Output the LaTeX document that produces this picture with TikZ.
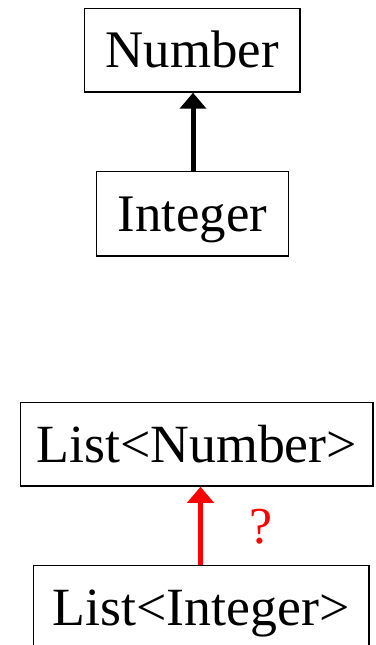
\documentclass[tikz,border=0pt]{standalone}
\usepackage{fontspec}
\setmainfont{Liberation Serif}
\usetikzlibrary{arrows.meta}
\begin{document}
\begin{tikzpicture}[x=1bp,y=-1bp,
  box/.style={draw=black,line width=1.5bp,inner sep=0pt,rectangle,text depth=0pt},
  big/.style={font=\fontsize{53}{60}\selectfont,text height=35bp},
  bigger/.style={font=\fontsize{54}{62}\selectfont,text height=36bp},
  inh/.style={line width=5bp,-{Triangle[width=26bp,length=16bp]}}]
\useasboundingbox (0,0) rectangle (375,645);
\clip (0,0) rectangle (375,645);
\node[box,big,minimum width=215.5bp,minimum height=83.5bp] (num) at (192.25,50.25) {Number};
\node[box,big,minimum width=192bp,minimum height=84.5bp] (int) at (192.5,213.75) {Integer};
\node[box,bigger,minimum width=352.5bp,minimum height=83.5bp] (lnum) at (196.75,444.25) {List<Number>};
\node[box,bigger,minimum width=335.5bp,minimum height=84bp] (lint) at (201.25,607.5) {List<Integer>};
\coordinate (bx) at (193,0);
\coordinate (rx) at (200.5,0);
\draw[inh,black] (int.north -| bx) -- (num.south -| bx);
\draw[inh,red] (lint.north -| rx) -- (lnum.south -| rx);
\node[text=red,font=\fontsize{52}{60}\selectfont,inner sep=0pt] (q) at (260.5,526.5) {?};
\end{tikzpicture}
\end{document}
